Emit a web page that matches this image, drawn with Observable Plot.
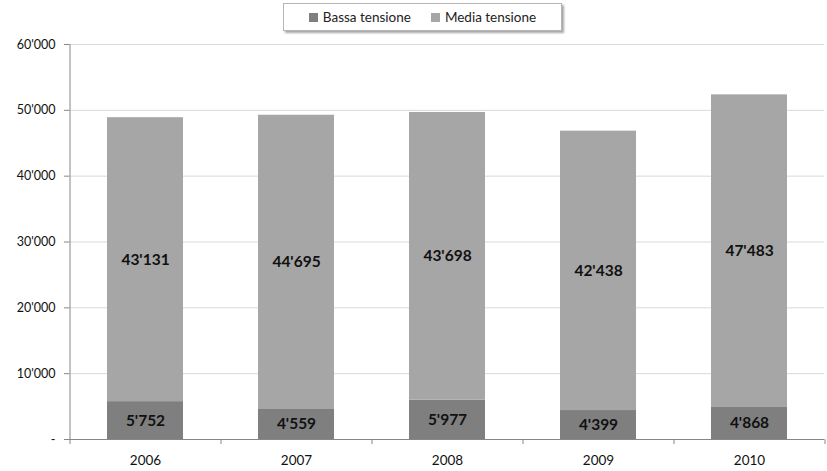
<!DOCTYPE html>
<html>
<head>
<meta charset="utf-8">
<script src="https://cdn.jsdelivr.net/npm/d3@7"></script>
<script src="https://cdn.jsdelivr.net/npm/@observablehq/plot@0.6"></script>
<style>
  body { margin: 0; background: #fff; font-family: Lato, "Open Sans", sans-serif; }
  #legend { position: relative; width: 827px; height: 34px; }
  #legend .box {
    position: absolute; left: 283px; top: 3px; width: 277px; height: 26px;
    border: 1px solid #b5b5b5; background: #fff;
    box-shadow: 2px 2px 2px rgba(0,0,0,0.35);
    display: flex; align-items: center; justify-content: center; gap: 20px;
    font-size: 13.5px; color: #222;
  }
  #legend .item { display: flex; align-items: center; gap: 5px; }
  #legend .sw { width: 9px; height: 9px; display: inline-block; }
</style>
</head>
<body>
<div id="legend"></div>
<div id="chart"></div>
<script>
// Yearly totals, split by voltage level
const years = ["2006", "2007", "2008", "2009", "2010"];
const bassa = [5752, 4559, 5977, 4399, 4868];
const media = [43131, 44695, 43698, 42438, 47483];
const series = ["Bassa tensione", "Media tensione"];
const colors = ["#7f7f7f", "#a6a6a6"];
const yTicks = [0, 10000, 20000, 30000, 40000, 50000, 60000];

const rows = years.flatMap((year, i) => [
  {year, serie: series[0], value: bassa[i]},
  {year, serie: series[1], value: media[i]}
]);

// Swiss-style thousands separator, dash for zero
const fmt = v => v === 0 ? "-" : d3.format(",")(v).replace(/,/g, "'");

const width = 827, marginLeft = 69, marginRight = 3;
const step = (width - marginLeft - marginRight) / years.length;

// Legend
const legend = document.getElementById("legend");
const box = document.createElement("div");
box.className = "box";
series.forEach((s, i) => {
  const item = document.createElement("span");
  item.className = "item";
  item.innerHTML = `<span class="sw" style="background:${colors[i]}"></span><span>${s}</span>`;
  box.appendChild(item);
});
legend.appendChild(box);

const chart = Plot.plot({
  width,
  height: 437,
  marginLeft,
  marginRight,
  marginTop: 10,
  marginBottom: 32,
  style: {fontFamily: "Lato, 'Open Sans', sans-serif", color: "#111", background: "#fff"},
  x: {domain: years, paddingInner: 0.5, paddingOuter: 0.25, axis: null},
  y: {domain: [0, 60000], axis: null},
  color: {domain: series, range: colors},
  marks: [
    Plot.gridY(yTicks, {stroke: "#d9d9d9", strokeOpacity: 1}),
    Plot.barY(rows, Plot.stackY({x: "year", y: "value", fill: "serie", z: "serie", order: series})),
    Plot.text(rows, Plot.stackY({
      x: "year", y: "value", z: "serie", order: series,
      text: d => fmt(d.value),
      fontSize: 15.5, fontWeight: "bold", fill: "#111"
    })),
    // axis lines
    Plot.ruleY([0], {stroke: "#868686"}),
    Plot.ruleX([years[0]], {dx: -step / 2, stroke: "#868686"}),
    // y axis ticks and labels
    Plot.axisY(yTicks, {
      label: null, tickFormat: fmt, tickSize: 5, tickPadding: 9, fontSize: 12.5,
      stroke: "#868686", strokeOpacity: 1
    }),
    // category boundary ticks
    Plot.axisX(years, {label: null, tickSize: 5, dx: step / 2, tickFormat: () => "", stroke: "#868686", strokeOpacity: 1}),
    Plot.axisX([years[0]], {label: null, tickSize: 5, dx: -step / 2, tickFormat: () => "", stroke: "#868686", strokeOpacity: 1}),
    // category labels
    Plot.axisX(years, {label: null, tickSize: 0, tickPadding: 16, fontSize: 13.5})
  ]
});
document.getElementById("chart").appendChild(chart);
</script>
</body>
</html>
